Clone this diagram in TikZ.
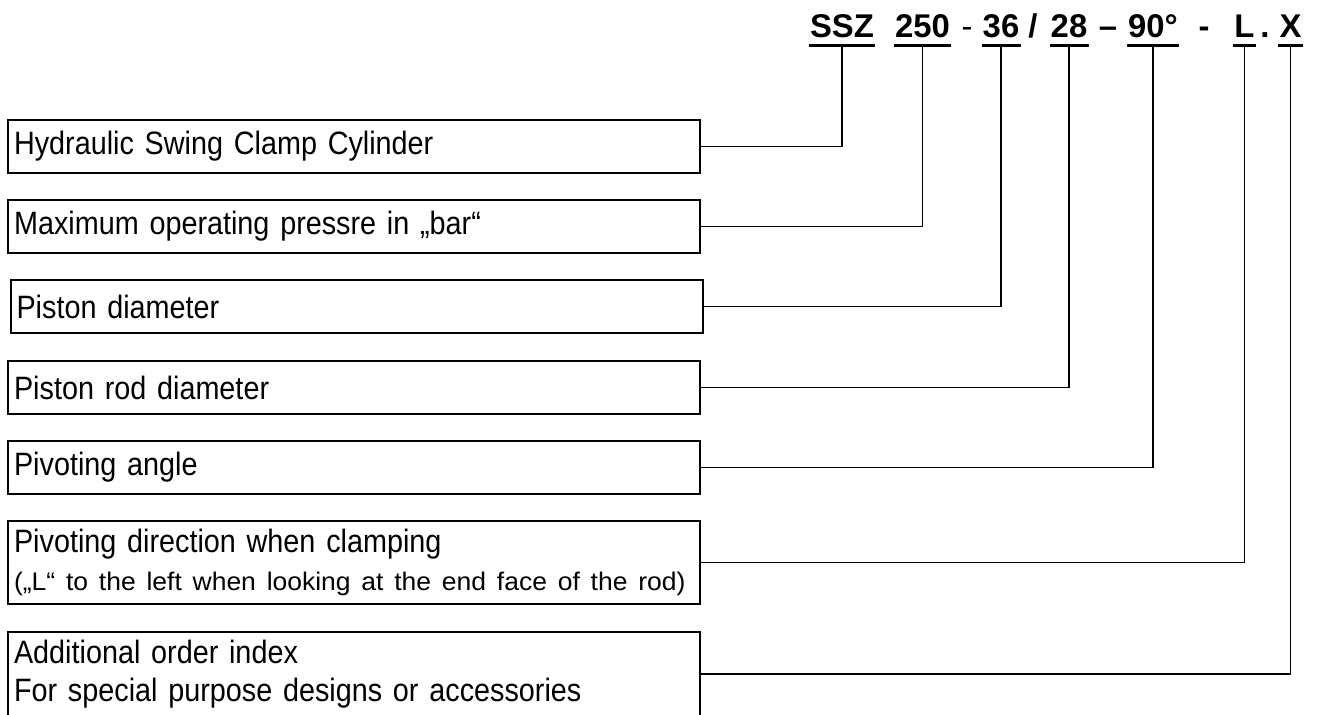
\documentclass[tikz,border=0pt]{standalone}
\usepackage{fontspec}
\setmainfont{Liberation Sans}
\newfontfamily\descfont[FakeStretch=0.89, WordSpace=0.85]{Liberation Sans}
\newfontfamily\notefont[FakeStretch=1.04]{Liberation Sans}
\usetikzlibrary{positioning}
\tikzset{
	descbox/.style={
		rectangle, draw=black, line width=1.2pt, anchor=west,
		text width=13.6cm, inner xsep=0.12cm, align=left,
		minimum height=1.06cm,
		font=\descfont\fontsize{18.4}{21.5}\selectfont
	},
	codepart/.style={
		anchor=base, inner xsep=0.5pt, inner ysep=0.14cm, text depth=0pt,
		font=\fontsize{18.7}{22}\selectfont\bfseries
	},
	codesep/.style={
		anchor=base, inner sep=0pt,
		font=\fontsize{18.7}{22}\selectfont\bfseries
	},
	uline/.style={line width=1.7pt},
	leader/.style={line width=1.1pt}
}

\begin{document}
\begin{tikzpicture}
	\useasboundingbox (0,0) rectangle (26.34,-14.30);
	
	%% order code
	\node[codepart] (ssz)    at (16.84,-0.76) {SSZ};
	\node[codepart] (pmax)   at (18.45,-0.76) {250};
	\node[codesep, font=\fontsize{18.7}{22}\selectfont] (sepa) at (19.34,-0.76) {-};
	\node[codepart] (dpist)  at (20.02,-0.76) {36};
	\node[codesep]  (sepb)   at (20.66,-0.76) {/};
	\node[codepart] (drod)   at (21.38,-0.76) {28};
	\node[codesep]  (sepc)   at (22.16,-0.76) {–};
	\node[codepart] (pangle) at (23.06,-0.76) {90°};
	\node[codesep]  (sepd)   at (24.08,-0.76) {-};
	\node[codepart] (pdir)   at (24.89,-0.76) {L};
	\node[codesep]  (sepe)   at (25.30,-0.76) {.};
	\node[codepart] (oidx)   at (25.81,-0.76) {X};
	
	\foreach \n in {ssz,pmax,dpist,drod,pangle,pdir,oidx}
		\draw[uline] (\n.south west) -- (\n.south east);
	
	%% descriptions
	\node[descbox] (hyd)    at (0.14,-2.93)  {Hydraulic Swing Clamp Cylinder};
	\node[descbox] (press)  at (0.14,-4.53)  {Maximum operating pressre in „bar“};
	\node[descbox] (piston) at (0.19,-6.13)  {Piston diameter};
	\node[descbox] (rod)    at (0.14,-7.75)  {Piston rod diameter};
	\node[descbox] (angle)  at (0.14,-9.35)  {Pivoting angle};
	\node[descbox, minimum height=1.66cm] (dir) at (0.14,-11.25)
		{Pivoting direction when clamping\\
		\mbox{\notefont\fontsize{14.5}{17}\selectfont („L“ to the left when looking at the end face of the rod)}};
	\node[descbox, minimum height=1.68cm] (index) at (0.14,-13.48)
		{Additional order index\\For special purpose designs or accessories};
	
	%% leaders
	\draw[leader] (hyd.east)    -| (ssz.south);
	\draw[leader] (press.east)  -| (pmax.south);
	\draw[leader] (piston.east) -| (dpist.south);
	\draw[leader] (rod.east)    -| (drod.south);
	\draw[leader] (angle.east)  -| (pangle.south);
	\draw[leader] (dir.east)    -| (pdir.south);
	\draw[leader] (index.east)  -| (oidx.south);
\end{tikzpicture}
\end{document}
